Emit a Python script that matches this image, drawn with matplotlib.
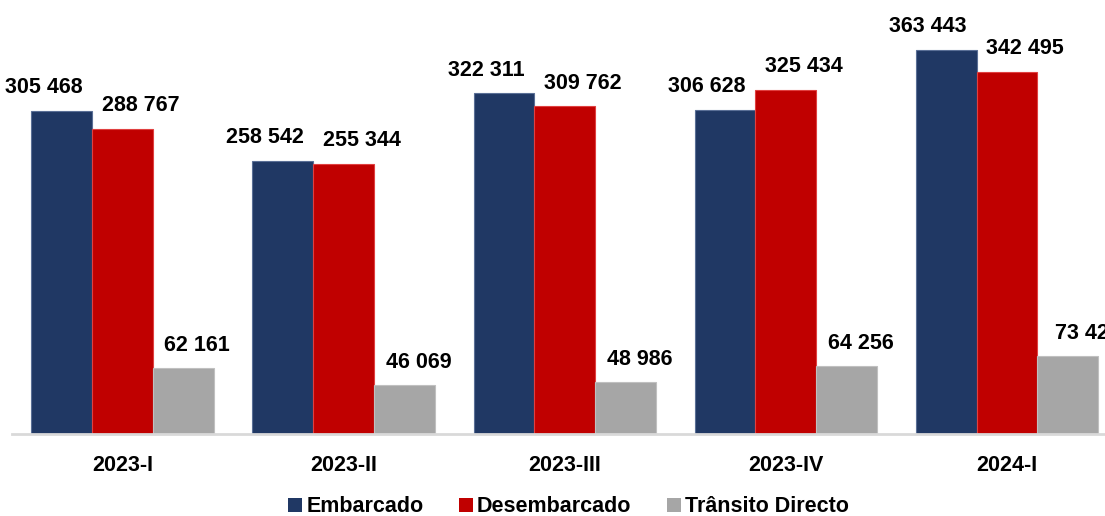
import numpy as np
import matplotlib.pyplot as plt
from matplotlib.patches import Patch

plt.rcParams['font.family'] = ['Liberation Sans', 'DejaVu Sans']
plt.rcParams['font.weight'] = 'bold'

periods = ["2023-I", "2023-II", "2023-III", "2023-IV", "2024-I"]
series_names = ["Embarcado", "Desembarcado", "Trânsito Directo"]
embarcado = [305468, 258542, 322311, 306628, 363443]
desembarcado = [288767, 255344, 309762, 325434, 342495]
transito = [62161, 46069, 48986, 64256, 73420]
labels_transito = ["62 161", "46 069", "48 986", "64 256", "73 42"]

colors = ["#203864", "#c00000", "#a6a6a6"]
edges = ["#5a6f96", "#e04040", "#c0c0c0"]
label_dx = [-13, 13, 10]  # points

def fmt(v):
    return f"{v:,}".replace(",", " ")

fig = plt.figure(figsize=(11.05, 5.16), dpi=100)
ax = fig.add_axes([12 / 1105, 82 / 516, 1105.5 / 1105, 423 / 516])

x = np.arange(len(periods))
w = 0.275
all_vals = [embarcado, desembarcado, transito]
all_labels = [[fmt(v) for v in embarcado], [fmt(v) for v in desembarcado], labels_transito]
for i, vals in enumerate(all_vals):
    pos = x + (i - 1) * w
    ax.bar(pos, vals, width=w, color=colors[i], edgecolor=edges[i], linewidth=0.8)
    for xp, v, lab in zip(pos, vals, all_labels[i]):
        ax.annotate(lab, (xp, v), xytext=(label_dx[i], 9), textcoords='offset points',
                    ha='center', va='bottom', fontsize=15.5, fontweight='bold')

ax.set_xlim(-0.5, 4.5)
ax.set_ylim(0, 400000)
ax.set_xticks(x)
ax.set_xticklabels(periods, fontsize=15.5, fontweight='bold')
ax.tick_params(axis='x', length=0, pad=15)
ax.set_yticks([])
for s in ['top', 'right', 'left']:
    ax.spines[s].set_visible(False)
ax.spines['bottom'].set_color('#d9d9d9')
ax.spines['bottom'].set_linewidth(2)

handles = [Patch(facecolor=c, edgecolor='none') for c in colors]
fig.legend(handles, series_names, loc='center', bbox_to_anchor=(0.5145, 1 - 507 / 516),
           ncol=3, frameon=False, fontsize=15.5, handlelength=0.65, handleheight=0.65,
           handletextpad=0.2, columnspacing=1.65)

fig.savefig("out.png", dpi=100)
